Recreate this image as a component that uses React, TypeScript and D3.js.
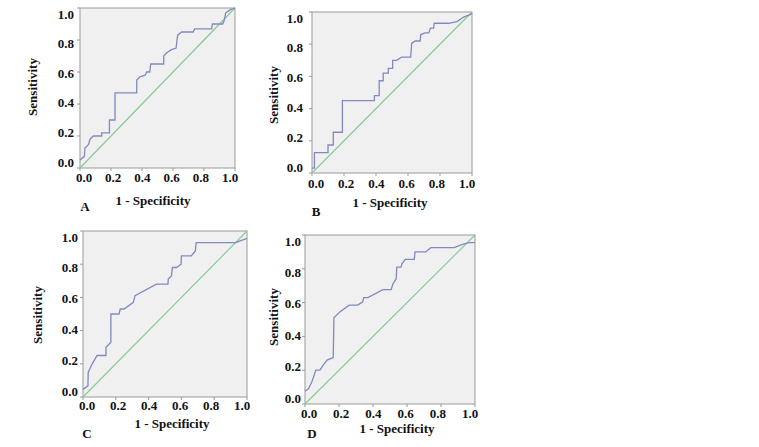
import React from 'react';
import * as d3 from 'd3';

// ROC curve points [1 - specificity, sensitivity]
const rocA: [number, number][] = [
  [0, 0.05], [0.028, 0.073], [0.032, 0.125], [0.054, 0.146], [0.065, 0.18], [0.086, 0.2],
  [0.14, 0.2], [0.14, 0.22], [0.19, 0.22], [0.19, 0.3], [0.226, 0.3], [0.226, 0.47],
  [0.366, 0.47], [0.366, 0.55], [0.387, 0.57], [0.42, 0.58], [0.43, 0.6], [0.45, 0.6],
  [0.456, 0.65], [0.54, 0.65], [0.54, 0.7], [0.56, 0.72], [0.59, 0.74], [0.62, 0.75],
  [0.63, 0.83], [0.656, 0.85], [0.73, 0.85], [0.74, 0.87], [0.85, 0.87], [0.854, 0.9],
  [0.92, 0.9], [0.93, 0.92], [0.94, 0.97], [0.97, 0.99], [1.0, 1.0],
];

const rocB: [number, number][] = [
  [0, 0.03], [0.015, 0.03], [0.015, 0.126], [0.1, 0.126], [0.1, 0.174], [0.133, 0.174],
  [0.133, 0.253], [0.19, 0.253], [0.19, 0.45], [0.39, 0.45], [0.39, 0.48], [0.42, 0.48],
  [0.42, 0.573], [0.445, 0.573], [0.445, 0.62], [0.477, 0.62], [0.477, 0.65], [0.504, 0.65],
  [0.504, 0.7], [0.53, 0.7], [0.56, 0.72], [0.617, 0.72], [0.623, 0.805], [0.644, 0.82],
  [0.676, 0.82], [0.68, 0.86], [0.707, 0.87], [0.73, 0.87], [0.74, 0.9], [0.76, 0.9],
  [0.764, 0.93], [0.854, 0.93], [0.906, 0.94], [0.95, 0.97], [0.98, 0.98], [1.0, 0.99],
];

const rocC: [number, number][] = [
  [0, 0.046], [0.03, 0.067], [0.032, 0.15], [0.056, 0.2], [0.086, 0.25], [0.14, 0.25],
  [0.14, 0.3], [0.17, 0.33], [0.17, 0.5], [0.22, 0.5], [0.227, 0.53], [0.25, 0.53],
  [0.307, 0.57], [0.317, 0.61], [0.448, 0.68], [0.518, 0.68], [0.52, 0.71], [0.54, 0.73],
  [0.545, 0.78], [0.57, 0.78], [0.598, 0.8], [0.6, 0.85], [0.66, 0.85], [0.685, 0.88],
  [0.69, 0.93], [0.93, 0.93], [1.0, 0.955],
];

const rocD: [number, number][] = [
  [0, 0.075], [0.02, 0.09], [0.04, 0.13], [0.064, 0.2], [0.088, 0.2], [0.107, 0.23],
  [0.13, 0.26], [0.166, 0.275], [0.17, 0.51], [0.205, 0.545], [0.26, 0.585], [0.31, 0.585],
  [0.34, 0.605], [0.345, 0.63], [0.37, 0.63], [0.458, 0.677], [0.507, 0.677], [0.517, 0.71],
  [0.536, 0.74], [0.54, 0.81], [0.565, 0.81], [0.57, 0.83], [0.59, 0.856], [0.643, 0.856],
  [0.647, 0.9], [0.71, 0.9], [0.74, 0.925], [0.877, 0.925], [0.926, 0.945], [0.965, 0.955],
  [1.0, 0.955],
];

const tickValues = [0, 0.2, 0.4, 0.6, 0.8, 1.0];
const panelLetters = ['A', 'B', 'C', 'D'];
const xTitle = '1 - Specificity';
const yTitle = 'Sensitivity';

const curves = [rocA, rocB, rocC, rocD];

// where each small chart sits on the page
const layouts = [
  { x0: 80, x1: 235, y0: 8, y1: 168, gap: 6, tickY: 177, titleX: 153, titleY: 200, letterX: 85, letterY: 206, sensX: 32, sensY: 87 },
  { x0: 312, x1: 472, y0: 12, y1: 173, gap: 9, tickY: 183, titleX: 390, titleY: 202, letterX: 316, letterY: 211, sensX: 273, sensY: 95 },
  { x0: 83, x1: 247, y0: 231, y1: 397, gap: 5, tickY: 405, titleX: 172, titleY: 423, letterX: 87, letterY: 433, sensX: 37, sensY: 315 },
  { x0: 305, x1: 475, y0: 235, y1: 404, gap: 4, tickY: 413, titleX: 397, titleY: 428, letterX: 312, letterY: 433, sensX: 273, sensY: 317 },
];

const font = '"Liberation Serif", "Times New Roman", serif';

function RocPanel({ data, lay, letter }: { data: [number, number][]; lay: typeof layouts[0]; letter: string }) {
  const x = d3.scaleLinear().domain([0, 1]).range([lay.x0, lay.x1]);
  const y = d3.scaleLinear().domain([0, 1]).range([lay.y1, lay.y0]);
  // the printed tick labels sit a little inside the frame in the original
  const xLab = d3.scaleLinear().domain([0, 1]).range([lay.x0 + 4, lay.x1 - 5]);
  const yLab = d3.scaleLinear().domain([0, 1]).range([lay.y1 - 6, lay.y0 + 6]);
  const line = d3.line<[number, number]>().x(d => x(d[0])).y(d => y(d[1]));
  const diag: [number, number][] = [[0, 0], [1, 1]];

  return (
    <g>
      <rect x={lay.x0} y={lay.y0} width={lay.x1 - lay.x0} height={lay.y1 - lay.y0} fill="#f0f0f0" stroke="#9a9a9a" strokeWidth={1} />
      {tickValues.map(t => (
        <g key={'y' + t}>
          <line x1={lay.x0 - 3} x2={lay.x0} y1={y(t)} y2={y(t)} stroke="#9a9a9a" />
          <text x={lay.x0 - lay.gap} y={yLab(t)} dy="0.35em" textAnchor="end" fontFamily={font} fontWeight="bold" fontSize={13} fill="#111">
            {t.toFixed(1)}
          </text>
        </g>
      ))}
      {tickValues.map(t => (
        <g key={'x' + t}>
          <line x1={x(t)} x2={x(t)} y1={lay.y1} y2={lay.y1 + 3} stroke="#9a9a9a" />
          <text x={xLab(t)} y={lay.tickY} dy="0.35em" textAnchor="middle" fontFamily={font} fontWeight="bold" fontSize={13} fill="#111">
            {t.toFixed(1)}
          </text>
        </g>
      ))}
      <path d={line(diag) || ''} fill="none" stroke="#86c994" strokeWidth={1.1} />
      <path d={line(data) || ''} fill="none" stroke="#8189bf" strokeWidth={1.3} />
      <text x={lay.titleX} y={lay.titleY} dy="0.35em" textAnchor="middle" fontFamily={font} fontWeight="bold" fontSize={13} fill="#111">
        {xTitle}
      </text>
      <text transform={`translate(${lay.sensX},${lay.sensY}) rotate(-90)`} dy="0.35em" textAnchor="middle" fontFamily={font} fontWeight="bold" fontSize={13} fill="#111">
        {yTitle}
      </text>
      <text x={lay.letterX} y={lay.letterY} dy="0.35em" textAnchor="middle" fontFamily={font} fontWeight="bold" fontSize={13} fill="#111">
        {letter}
      </text>
    </g>
  );
}

export default function App() {
  return (
    <svg width={759} height={447} style={{ position: 'absolute', left: 0, top: 0, background: '#fff' }}>
      {curves.map((c, i) => (
        <RocPanel key={panelLetters[i]} data={c} lay={layouts[i]} letter={panelLetters[i]} />
      ))}
    </svg>
  );
}
